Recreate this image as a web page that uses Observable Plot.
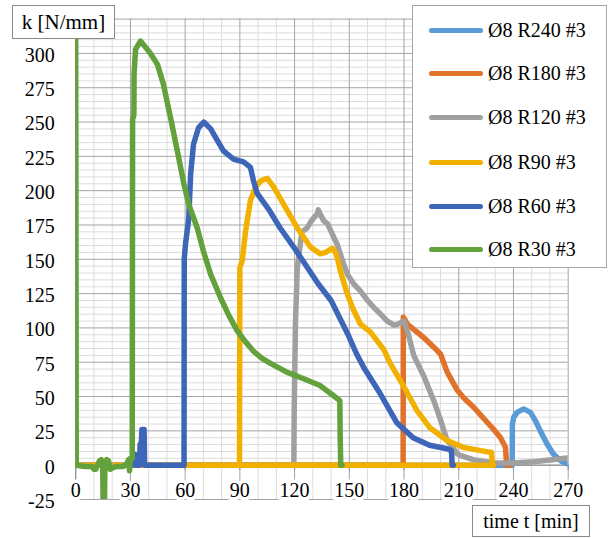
<!DOCTYPE html>
<html>
<head>
<meta charset="utf-8">
<script src="https://cdn.jsdelivr.net/npm/d3@7"></script>
<script src="https://cdn.jsdelivr.net/npm/@observablehq/plot@0.6"></script>
<style>
  body { margin: 0; background: white; }
  #wrap { position: relative; width: 608px; height: 538px;
          font-family: "Liberation Serif", "Times New Roman", Times, Tinos, "Noto Serif", "DejaVu Serif", "FreeSerif", "Nimbus Roman", serif; }
  .box { position: absolute; background: white; border: 1.5px solid #8a8a8a; box-sizing: border-box; color: #000;
         display: flex; align-items: center; justify-content: center; font-size: 21px; white-space: nowrap; }
  #legend { position: absolute; left: 412px; top: 5px; width: 195px; height: 263px; background: white;
            border: 1.5px solid #a6a6a6; box-sizing: border-box; }
  .item { position: absolute; left: 0; height: 30px; display: flex; align-items: center; font-size: 20px; color: #000; white-space: nowrap; }
  .swatch { display: inline-block; width: 54px; height: 5px; border-radius: 3px; margin-left: 16px; margin-right: 5px; }
</style>
</head>
<body>
<div id="wrap"></div>
<script>
// ---- data ----
const names = ["Ø8 R240 #3", "Ø8 R180 #3", "Ø8 R120 #3", "Ø8 R90 #3", "Ø8 R60 #3", "Ø8 R30 #3"];
const colors = ["#5b9bd5", "#e0722c", "#a0a0a0", "#f2b100", "#3d65b8", "#62a13c"];

const r240_t = [0, 239.3, 239.4, 240.2, 242, 245.6, 249.3, 252, 254.7, 258.4, 262, 266, 269.4, 270];
const r240_k = [0, 0, 30, 35, 38.5, 41, 38.5, 32.4, 25, 15.5, 8, 3, 1, 1];

const r180_t = [0, 179.5, 179.6, 180.5, 181.7, 185.3, 190.8, 196.3, 200, 203.6, 209, 212.8, 218.3, 223.7, 229.2, 232.9, 235.6, 236.3, 238];
const r180_k = [0, 0, 107.7, 106, 103, 99, 93, 86, 81, 68, 55, 49, 42, 34, 26, 20, 13, 0, 0];

const r120_t = [0, 119.6, 119.8, 120.5, 121.5, 124, 127, 128.7, 131, 132.5, 133, 134, 136, 138, 141.5, 143.3, 147, 149, 152.5, 156, 160, 163.4, 167.2, 170.8, 174.5, 177, 180, 182, 185.3, 190.8, 196.3, 200, 203.6, 205.4, 209, 211, 218, 229, 240, 251, 260, 269.4, 270];
const r120_k = [0, 0, 42, 105, 144, 170, 173, 177, 181, 183, 186, 183, 178, 176, 166, 161, 146, 139, 132, 127, 120, 115, 110, 105, 102, 103, 105, 97, 80, 65, 47, 33, 18, 15.5, 8.4, 7, 4, 1.6, 1.6, 2.5, 3.8, 5.2, 5.2];

// R90: the curve, then its zero trace running back along the axis
const r90_t = [0, 89.8, 90, 91.3, 93, 94, 95.8, 98.6, 101.3, 105, 108.6, 114, 121.4, 128.7, 134, 137, 140.6, 142.4, 144, 145, 148.8, 152, 156, 161.6, 169, 172.5, 180, 187, 194, 203.6, 212.6, 222, 228, 228.4, 229, 0];
const r90_k = [0, 0, 144, 149, 169, 178, 193, 202.5, 207, 209, 202.5, 190, 173, 159, 154, 155, 158, 155, 148, 142, 125, 114, 103, 97, 84, 74, 57, 40, 27.5, 18, 13, 10.6, 9.3, 0, 0, 0];

const r60_t = [29, 31, 31.5, 32.5, 33, 35, 35.3, 36, 36.3, 37.5, 37.8, 59.4, 59.5, 60.2, 62, 63, 64.6, 67.4, 70.2, 74, 77.7, 81, 86.5, 92, 95.8, 97.5, 99.5, 106, 112, 120, 127, 133, 140, 149, 154, 158, 167, 176, 185, 194, 203.6, 206, 206.4, 207];
const r60_k = [0, 0, 8, 8, 0, 0, 15, 17, 26, 26, 0, 0, 150, 161, 180, 212, 234, 246, 250, 245, 236.5, 229, 223, 221, 217, 207, 198, 186, 173, 158, 144, 132, 120, 96, 81, 71, 52, 31, 20, 14.5, 12, 10.6, 0, 0];

const r30_t = [0, 0.3, 5, 9, 10, 11, 12, 13, 14, 14.8, 15, 15.8, 16, 17, 18, 19, 20, 22, 26, 28, 29, 29.5, 30, 31, 31.2, 31.9, 32, 32.8, 35.5, 38, 41, 44.8, 48, 52, 55.7, 59.3, 62, 66.6, 70, 74, 79.4, 84, 88.5, 93, 97.5, 102, 107, 116, 125, 134, 141.4, 144.8, 145, 145.3, 146];
const r30_k = [312, 0, -1, -1, -3, -3, 0, 3, 4, 0, -25, -25, 0, 4, 3, -3, -2, -1, -1, 1, 4, -4, 5, 5, 252, 255, 285, 303, 309, 305, 300, 292, 278, 253, 229, 205, 190, 173, 156, 139, 122, 109, 98, 90, 83, 78, 74, 67.6, 63, 58, 50.6, 47, 20, 0, 0];

const xTicks = [0, 30, 60, 90, 120, 150, 180, 210, 240, 270];
const yTicks = [-25, 0, 25, 50, 75, 100, 125, 150, 175, 200, 225, 250, 275, 300];
const yTitle = "k [N/mm]";
const xTitle = "time t [min]";

// ---- build table ----
const seriesT = [r240_t, r180_t, r120_t, r90_t, r60_t, r30_t];
const seriesK = [r240_k, r180_k, r120_k, r90_k, r60_k, r30_k];
const rows = seriesT.flatMap((ts, i) => ts.map((t, j) => ({name: names[i], t, k: seriesK[i][j]})));

const xMajor = d3.range(0, 271, 30);
const xMinor = d3.range(0, 271, 10).filter(v => v % 30 !== 0);
const yMajor = d3.range(-25, 326, 25);
const yMinor = d3.range(0, 326, 5).filter(v => v % 25 !== 0);

const serif = "'Liberation Serif', 'Times New Roman', Times, Tinos, 'Noto Serif', 'DejaVu Serif', FreeSerif, 'Nimbus Roman', serif";

const chart = Plot.plot({
  width: 608, height: 538,
  marginLeft: 75.2, marginRight: 40.3, marginTop: 18.6, marginBottom: 39,
  x: {domain: [0, 270], axis: null},
  y: {domain: [-25, 325], axis: null},
  color: {domain: names, range: colors},
  style: {fontFamily: serif, fontSize: "20px", background: "white", color: "black"},
  marks: [
    Plot.ruleY(yMinor, {stroke: "#dcdcdc", strokeWidth: 1}),
    Plot.ruleX(xMinor, {stroke: "#dcdcdc", strokeWidth: 1}),
    Plot.ruleY(yMajor, {stroke: "#a4a4a4", strokeWidth: 1}),
    Plot.ruleX(xMajor, {stroke: "#a4a4a4", strokeWidth: 1}),
    Plot.ruleX(xMajor, {y1: 0, y2: -3.8, stroke: "#8c8c8c", strokeWidth: 1}),
    Plot.ruleY([0], {stroke: "#8c8c8c"}),
    Plot.ruleX([0], {stroke: "#8c8c8c"}),
    Plot.text(xTicks, {x: d => d, y: 0, dy: 25, text: d => String(d), fill: "black", fontFamily: serif,
                       stroke: "white", strokeWidth: 7, paintOrder: "stroke", fontSize: 20}),
    Plot.text(yTicks, {x: 0, y: d => d, dx: -21, dy: 2, textAnchor: "end", text: d => String(d), fill: "black", fontFamily: serif, fontSize: 20}),
    ...names.map(n => Plot.line(rows.filter(r => r.name === n), {
      x: "t", y: "k", stroke: "name", strokeWidth: 5.5,
      strokeLinejoin: "round", strokeLinecap: "round", clip: true
    }))
  ]
});

const wrap = document.getElementById("wrap");
wrap.appendChild(chart);

// axis title boxes
const yt = document.createElement("div");
yt.className = "box";
Object.assign(yt.style, {left: "12px", top: "5px", width: "103px", height: "34px"});
yt.textContent = yTitle;
wrap.appendChild(yt);

const xt = document.createElement("div");
xt.className = "box";
Object.assign(xt.style, {left: "472px", top: "505px", width: "118px", height: "32px", fontSize: "20px"});
xt.textContent = xTitle;
wrap.appendChild(xt);

// legend
const lg = document.createElement("div");
lg.id = "legend";
const rowCenters = [24, 67, 111, 156, 200, 243];
names.forEach((n, i) => {
  const it = document.createElement("div");
  it.className = "item";
  it.style.top = (rowCenters[i] - 15) + "px";
  const sw = document.createElement("span");
  sw.className = "swatch";
  sw.style.background = colors[i];
  const tx = document.createElement("span");
  tx.textContent = n;
  it.appendChild(sw); it.appendChild(tx);
  lg.appendChild(it);
});
wrap.appendChild(lg);
</script>
</body>
</html>
